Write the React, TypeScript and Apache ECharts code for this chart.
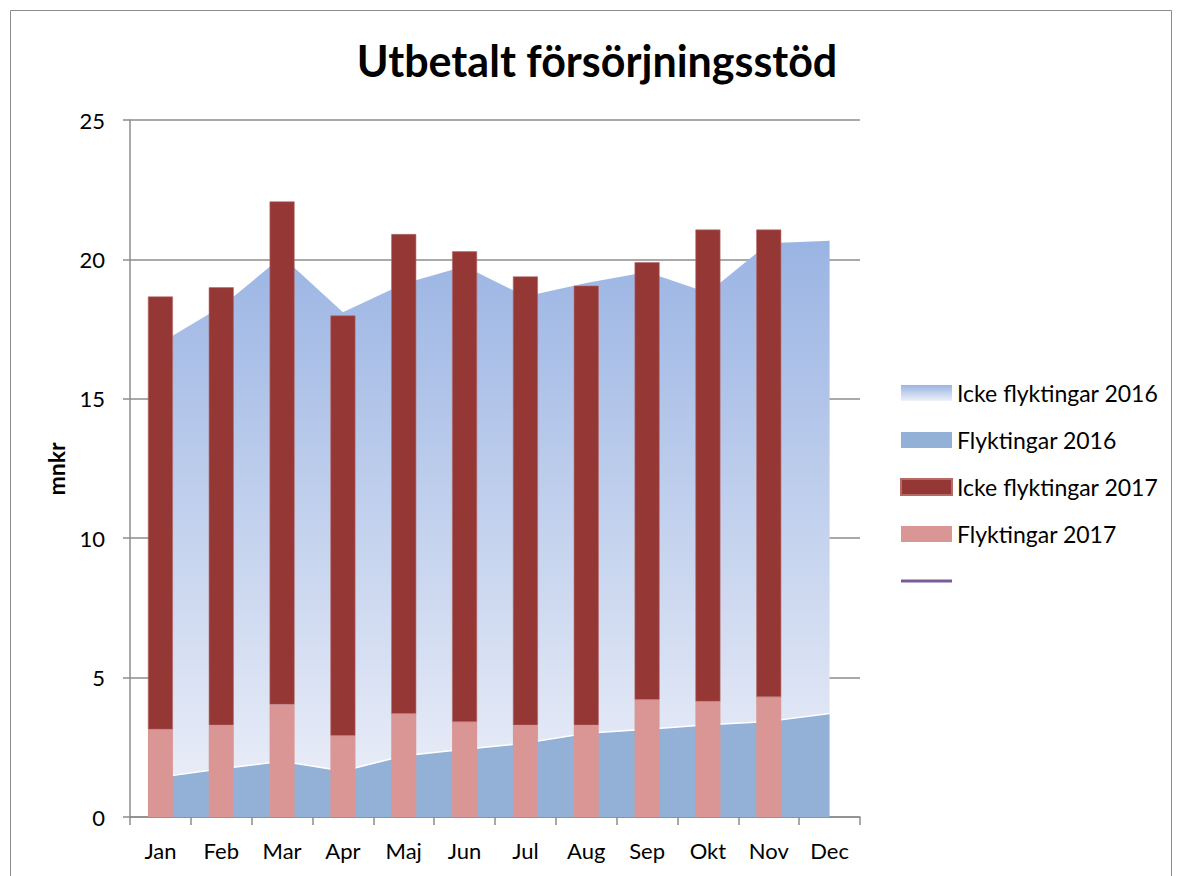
import React, { useEffect, useRef } from "react";
import * as echarts from "echarts";

const months = ["Jan", "Feb", "Mar", "Apr", "Maj", "Jun", "Jul", "Aug", "Sep", "Okt", "Nov", "Dec"];
const flykt2016 = [1.43, 1.73, 2.0, 1.65, 2.2, 2.43, 2.65, 3.0, 3.15, 3.31, 3.43, 3.71];
const icke2016 = [15.57, 16.57, 18.1, 16.45, 16.93, 17.32, 16.02, 16.15, 16.4, 15.49, 17.15, 16.96];
const flykt2017 = [3.14, 3.29, 4.03, 2.91, 3.7, 3.41, 3.29, 3.29, 4.2, 4.14, 4.3, null];
const icke2017 = [15.53, 15.71, 18.05, 15.08, 17.21, 16.88, 16.1, 15.77, 15.7, 16.93, 16.77, null];
const emptyLine = months.map(() => null);
const yTicks = { min: 0, max: 25, interval: 5 };

const FONT = "Lato";

export default function App() {
  const ref = useRef<HTMLDivElement>(null);
  useEffect(() => {
    if (!ref.current) return;
    const chart = echarts.init(ref.current, null, { renderer: "svg" });
    const areaGrad = new echarts.graphic.LinearGradient(0, 0, 0, 1, [
      { offset: 0, color: "#9ab4e3" },
      { offset: 1, color: "#e8ecf7" },
    ]);
    const legendGrad = new echarts.graphic.LinearGradient(0, 0, 0, 1, [
      { offset: 0, color: "#9ab4e3" },
      { offset: 1, color: "#eef1f9" },
    ]);
    chart.setOption({
      animation: false,
      backgroundColor: "#ffffff",
      textStyle: { fontFamily: FONT },
      graphic: [
        {
          type: "rect",
          shape: { x: 10.5, y: 10.5, width: 1161, height: 900 },
          style: { fill: "none", stroke: "#8c8c8c", lineWidth: 1 },
          silent: true,
        },
        {
          type: "text",
          x: 597,
          y: 60,
          style: {
            text: "Utbetalt försörjningsstöd",
            font: `bold 43px ${FONT}`,
            fill: "#000",
            align: "center",
            verticalAlign: "middle",
          },
        },
        {
          type: "text",
          x: 56,
          y: 469,
          rotation: Math.PI / 2,
          style: {
            text: "mnkr",
            font: `bold 23px ${FONT}`,
            fill: "#000",
            align: "center",
            verticalAlign: "middle",
          },
        },
      ],
      grid: { left: 130, right: 317, top: 120, bottom: 59, containLabel: false },
      legend: {
        orient: "vertical",
        left: 895,
        top: 375,
        itemWidth: 51,
        itemHeight: 16,
        itemGap: 21,
        icon: "rect",
        textStyle: { fontFamily: FONT, fontSize: 23, color: "#000", lineHeight: 26 },
        data: [
          { name: "Icke flyktingar 2016", itemStyle: { color: legendGrad } },
          { name: "Flyktingar 2016", itemStyle: { color: "#93b1d6" } },
          { name: "Icke flyktingar 2017", itemStyle: { color: "#953735" } },
          { name: "Flyktingar 2017", itemStyle: { color: "#d99694" } },
          { name: " ", icon: "path://M0,0L50,0L50,3L0,3Z", itemStyle: { color: "#7a5c9c" } },
        ],
      },
      xAxis: {
        type: "category",
        data: months,
        boundaryGap: true,
        axisLine: { lineStyle: { color: "#8c8c8c", width: 1.5 } },
        axisTick: { show: true, length: 8, lineStyle: { color: "#8c8c8c", width: 1.5 } },
        axisLabel: { fontSize: 22, color: "#000", margin: 22, fontFamily: FONT },
      },
      yAxis: {
        type: "value",
        min: yTicks.min,
        max: yTicks.max,
        interval: yTicks.interval,
        axisLine: { show: true, lineStyle: { color: "#8c8c8c", width: 1.5 } },
        axisTick: { show: true, length: 7, lineStyle: { color: "#8c8c8c", width: 1.5 } },
        axisLabel: { fontSize: 22, color: "#000", margin: 25, fontFamily: FONT },
        splitLine: { show: true, lineStyle: { color: "#8c8c8c", width: 1.5 } },
      },
      series: [
        {
          name: "Flyktingar 2016",
          type: "line",
          stack: "s2016",
          data: flykt2016,
          symbol: "none",
          z: 1,
          itemStyle: { color: "#93b1d6" },
          lineStyle: { color: "#ffffff", width: 1.5 },
          areaStyle: { color: "#93b1d6", opacity: 1 },
        },
        {
          name: "Icke flyktingar 2016",
          type: "line",
          stack: "s2016",
          data: icke2016,
          symbol: "none",
          z: 1,
          itemStyle: { color: "#9ab4e3" },
          lineStyle: { width: 0, opacity: 0 },
          areaStyle: { color: areaGrad, opacity: 1 },
        },
        {
          name: "Flyktingar 2017",
          type: "bar",
          stack: "s2017",
          data: flykt2017,
          barWidth: 25,
          z: 3,
          itemStyle: { color: "#d99694" },
        },
        {
          name: "Icke flyktingar 2017",
          type: "bar",
          stack: "s2017",
          data: icke2017,
          barWidth: 25,
          z: 3,
          itemStyle: { color: "#953735", borderColor: "#b56a68", borderWidth: 0.6 },
        },
        {
          name: " ",
          type: "line",
          data: emptyLine,
          symbol: "none",
          itemStyle: { color: "#7a5c9c" },
          lineStyle: { color: "#7a5c9c", width: 3 },
        },
      ],
    });
    return () => chart.dispose();
  }, []);
  return (
    <div
      ref={ref}
      style={{ position: "absolute", left: 0, top: 0, width: 1177, height: 876 }}
    />
  );
}
